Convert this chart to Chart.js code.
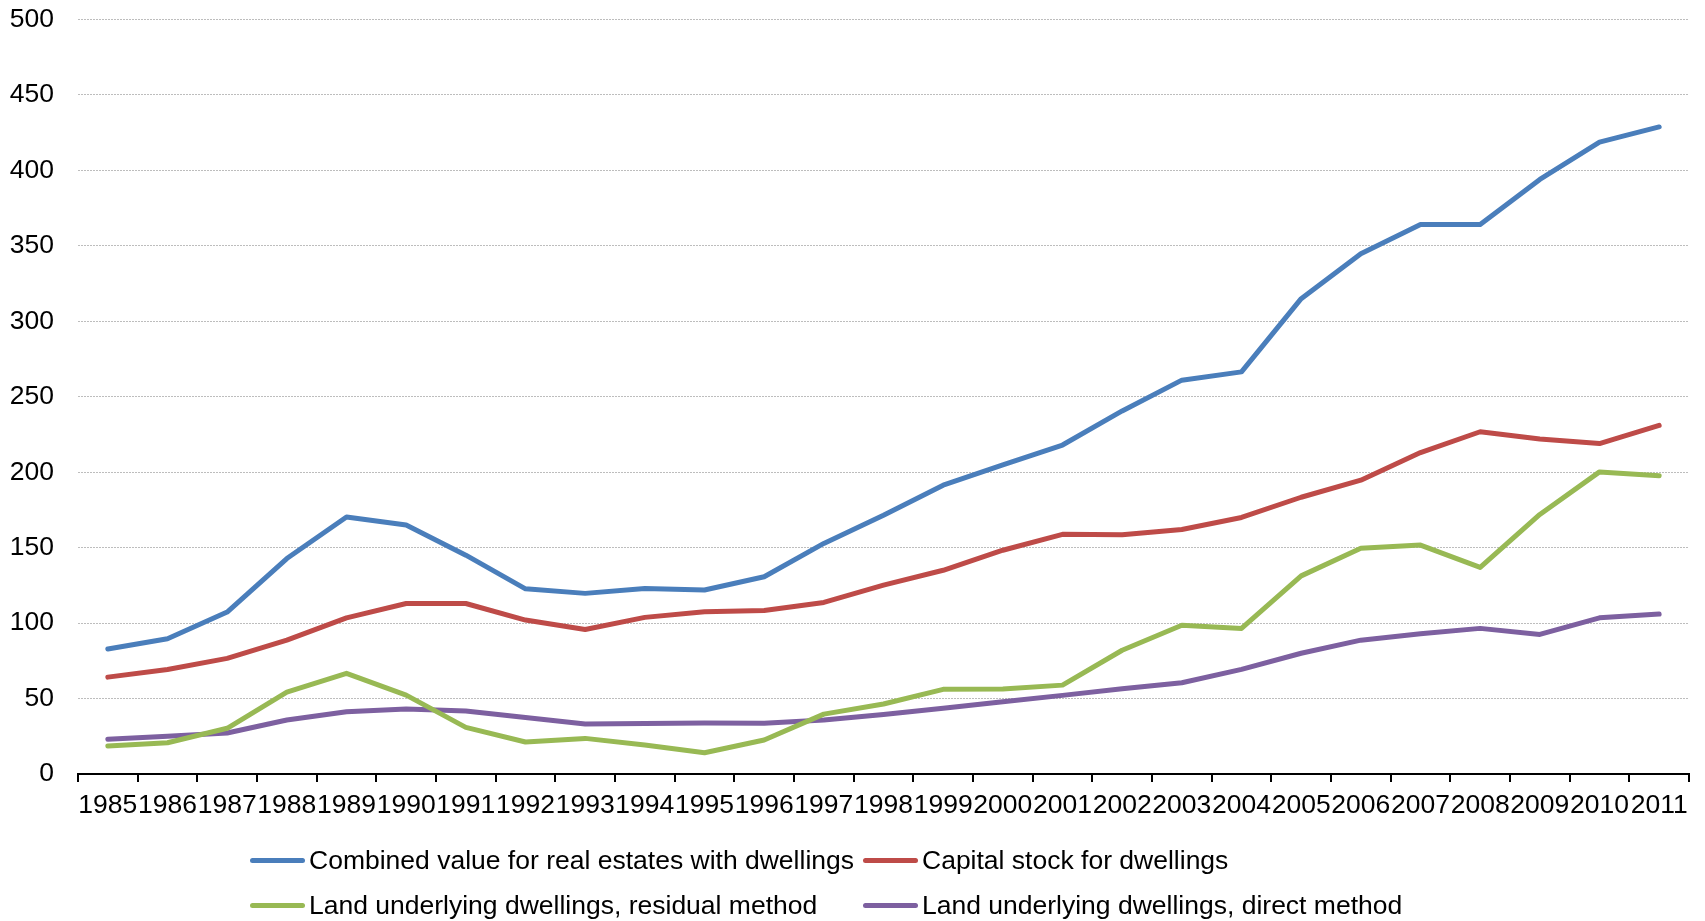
<!DOCTYPE html>
<html>
<head>
<meta charset="utf-8">
<script src="https://cdn.jsdelivr.net/npm/chart.js@4"></script>
<style>
  html, body { margin: 0; padding: 0; background: #fff; }
  #wrap { position: relative; width: 1705px; height: 921px; }
  #c { position: absolute; left: 0; top: 0; }
  .lg { position: absolute; font-family: "Liberation Sans", Arial, sans-serif; font-size: 26.5px; color: #000; white-space: nowrap; display: flex; align-items: center; }
  .lg .sw { display: inline-block; width: 55px; height: 5px; border-radius: 3px; margin-right: 4px; }
</style>
</head>
<body>
<div id="wrap">
  <canvas id="c" width="1705" height="921"></canvas>
</div>
<script>
const years = ['1985','1986','1987','1988','1989','1990','1991','1992','1993','1994','1995','1996','1997','1998','1999','2000','2001','2002','2003','2004','2005','2006','2007','2008','2009','2010','2011'];

const combinedValue = [82.8, 89.6, 107.3, 142.8, 170.3, 165.0, 145.0, 122.7, 119.7, 123.0, 121.9, 130.7, 152.8, 171.5, 191.4, 204.8, 218.0, 240.6, 261.0, 266.5, 315.0, 344.8, 364.2, 364.2, 394.0, 418.7, 428.8];
const capitalStock = [64.2, 69.3, 76.6, 88.7, 103.5, 113.0, 113.0, 102.0, 95.8, 103.8, 107.5, 108.3, 113.7, 125.2, 135.0, 148.3, 158.8, 158.5, 162.0, 170.0, 183.4, 194.7, 213.0, 226.8, 222.0, 219.0, 231.0];
const landResidual = [18.5, 20.7, 30.3, 54.3, 66.7, 52.3, 30.9, 21.2, 23.6, 19.2, 14.1, 22.5, 39.7, 46.4, 56.1, 56.3, 58.9, 82.0, 98.6, 96.5, 131.3, 149.6, 151.7, 136.9, 172.0, 200.2, 197.6];
const landDirect = [23.0, 25.0, 27.2, 35.8, 41.3, 43.0, 41.7, 37.5, 33.2, 33.5, 33.8, 33.6, 35.8, 39.5, 43.5, 47.9, 52.1, 56.5, 60.5, 69.3, 80.0, 88.7, 93.0, 96.5, 92.5, 103.5, 106.0];

const seriesNames = [
  'Combined value for real estates with dwellings',
  'Capital stock for dwellings',
  'Land underlying dwellings, residual method',
  'Land underlying dwellings, direct method'
];
const seriesColors = ['#4A7EBB', '#BE4B48', '#98B954', '#7D60A0'];
const yTicks = [0, 50, 100, 150, 200, 250, 300, 350, 400, 450, 500];

const FONT = '"Liberation Sans", Arial, sans-serif';
const allSeries = [combinedValue, capitalStock, landResidual, landDirect];

const datasets = allSeries.map((d, i) => ({
  label: seriesNames[i],
  data: d,
  borderColor: seriesColors[i],
  backgroundColor: seriesColors[i],
  borderWidth: 5,
  pointRadius: 0,
  tension: 0,
  fill: false,
  borderCapStyle: 'round',
  borderJoinStyle: 'round'
}));

const chart = new Chart(document.getElementById('c'), {
  type: 'line',
  data: { labels: years, datasets: datasets },
  options: {
    responsive: false,
    animation: false,
    devicePixelRatio: 1,
    layout: { padding: { left: 10, right: 16, top: 19.5, bottom: 97 } },
    plugins: {
      legend: { display: false },
      tooltip: { enabled: false }
    },
    scales: {
      x: {
        type: 'category',
        offset: true,
        grid: {
          offset: true,
          drawOnChartArea: false,
          drawTicks: true,
          tickLength: 8,
          color: '#000',
          lineWidth: 2
        },
        border: { display: true, color: '#000', width: 2 },
        ticks: {
          autoSkip: false,
          maxRotation: 0,
          minRotation: 0,
          padding: 8,
          color: '#000',
          font: { family: FONT, size: 26.5 }
        },
        afterFit: (s) => { s.height = 50; s.paddingLeft = 0; s.paddingRight = 0; }
      },
      y: {
        min: 0,
        max: 500,
        afterBuildTicks: (s) => { s.ticks = yTicks.map(v => ({ value: v })); },
        grid: {
          drawTicks: false,
          color: '#bdbdbd',
          lineWidth: 1
        },
        border: { display: false, dash: [2, 1] },
        ticks: {
          padding: 24,
          color: '#000',
          font: { family: FONT, size: 26.5 }
        },
        afterFit: (s) => { s.width = 68; s.paddingTop = 0; s.paddingBottom = 0; }
      }
    }
  }
});

// Legend as a two-column grid (real text), built from the datasets
const wrap = document.getElementById('wrap');
const legendPos = [
  { left: 250, top: 860 },
  { left: 863, top: 860 },
  { left: 250, top: 905 },
  { left: 863, top: 905 }
];
datasets.forEach((ds, i) => {
  const item = document.createElement('div');
  item.className = 'lg';
  item.style.left = legendPos[i].left + 'px';
  item.style.top = (legendPos[i].top - 16) + 'px';
  item.style.height = '32px';
  const sw = document.createElement('span');
  sw.className = 'sw';
  sw.style.background = ds.borderColor;
  const tx = document.createElement('span');
  tx.textContent = ds.label;
  item.appendChild(sw);
  item.appendChild(tx);
  wrap.appendChild(item);
});
</script>
</body>
</html>
